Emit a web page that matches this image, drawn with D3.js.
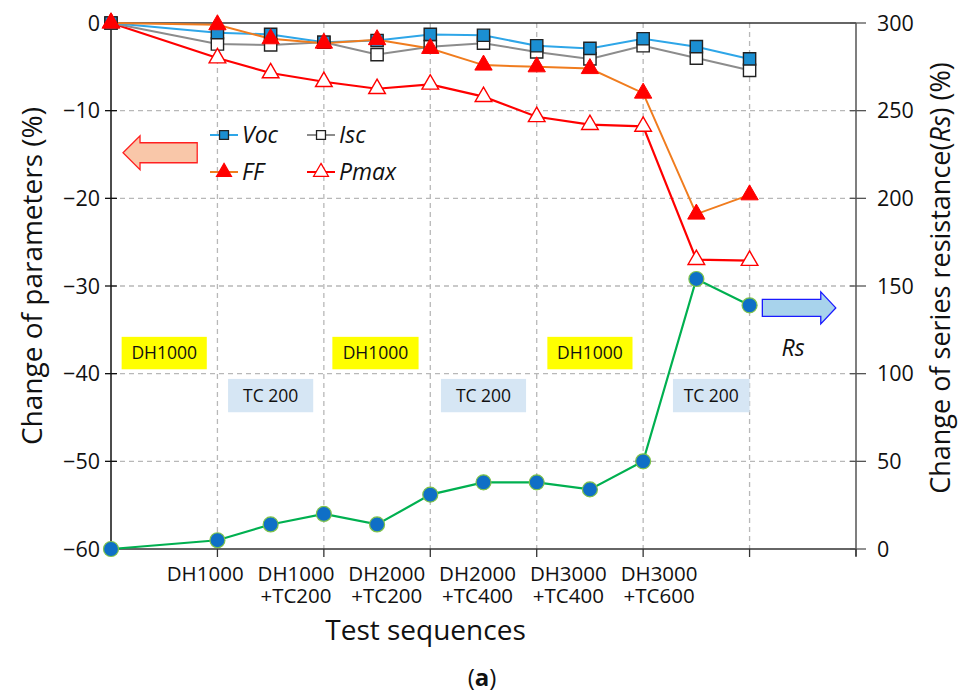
<!DOCTYPE html>
<html><head><meta charset="utf-8">
<script src="https://cdn.jsdelivr.net/npm/d3@7"></script>
<style>
html,body{margin:0;padding:0;background:#fff;}
text{font-family:"Open Sans",sans-serif;}
</style></head>
<body>
<svg id="chart" width="963" height="693"></svg>
<script>
// ---- data ----
const stepX = [0, 1, 1.5, 2, 2.5, 3, 3.5, 4, 4.5, 5, 5.5, 6];
const voc  = [0, -1.1, -1.3, -2.2, -2.0, -1.3, -1.4, -2.6, -2.9, -1.8, -2.7, -4.1];
const isc  = [0, -2.4, -2.5, -2.2, -3.6, -2.7, -2.3, -3.3, -4.1, -2.6, -4.0, -5.4];
const ff   = [0, -0.2, -1.8, -2.3, -1.9, -2.9, -4.8, -5.0, -5.2, -8.0, -21.8, -19.6];
const pmax = [0, -4.0, -5.7, -6.7, -7.5, -7.0, -8.4, -10.7, -11.6, -11.8, -27.0, -27.1];
const rs   = [0, 5, 14, 20, 14, 31, 38, 38, 34, 50, 154, 139];
const categories = ["DH1000", "DH1000\n+TC200", "DH2000\n+TC200", "DH2000\n+TC400", "DH3000\n+TC400", "DH3000\n+TC600"];
const leftTicks = [0, -10, -20, -30, -40, -50, -60];
const rightTicks = [0, 50, 100, 150, 200, 250, 300];
const xGrid = [1, 2, 3, 4, 5, 6];
const xTicks = [1, 2, 3, 4, 5, 6, 7];
const dhBoxes = [[0.1, 0.9], [2.08, 2.89], [4.1, 4.9]];
const tcBoxes = [[1.1, 1.9], [3.1, 3.9], [5.28, 6.0]];

// ---- scales ----
const svg = d3.select("#chart");
const x = d3.scaleLinear().domain([0, 7]).range([111, 856]);
const yL = d3.scaleLinear().domain([-60, 0]).range([549, 23]);
const yR = d3.scaleLinear().domain([0, 300]).range([549, 23]);
const xCat = d3.scalePoint().domain(categories).range([x(0.885), x(5.15)]);

// grid
const g = svg.append("g");
g.selectAll(".hg").data(leftTicks.filter(d => d !== 0 && d !== -60)).join("line")
  .attr("x1", x(0)).attr("x2", x(7)).attr("y1", d => yL(d)).attr("y2", d => yL(d))
  .attr("stroke", "#b8b8b8").attr("stroke-width", 1.3).attr("stroke-dasharray", "5,4");
g.selectAll(".vg").data(xGrid).join("line")
  .attr("x1", d => x(d)).attr("x2", d => x(d)).attr("y1", yL(0)).attr("y2", yL(-60))
  .attr("stroke", "#b8b8b8").attr("stroke-width", 1.3).attr("stroke-dasharray", "5,4");

// annotation boxes
const boxes = svg.append("g");
dhBoxes.forEach(b => {
  boxes.append("rect").attr("x", x(b[0])).attr("width", x(b[1]) - x(b[0]))
    .attr("y", yL(-35.8)).attr("height", yL(-39.5) - yL(-35.8)).attr("fill", "#ffff00");
  boxes.append("text").attr("x", (x(b[0]) + x(b[1])) / 2).attr("y", (yL(-35.8) + yL(-39.5)) / 2 + 6)
    .attr("text-anchor", "middle").attr("font-size", 17.5).attr("fill", "#111").text("DH1000");
});
tcBoxes.forEach(b => {
  boxes.append("rect").attr("x", x(b[0])).attr("width", x(b[1]) - x(b[0]))
    .attr("y", yL(-40.6)).attr("height", yL(-44.4) - yL(-40.6)).attr("fill", "#d6e6f4");
  boxes.append("text").attr("x", (x(b[0]) + x(b[1])) / 2).attr("y", (yL(-40.6) + yL(-44.4)) / 2 + 6)
    .attr("text-anchor", "middle").attr("font-size", 17.5).attr("fill", "#111").text("TC 200");
});

// axes frame
svg.append("line").attr("x1", x(0)).attr("x2", x(7)).attr("y1", yL(0)).attr("y2", yL(0)).attr("stroke", "#333").attr("stroke-width", 1.5);
svg.append("line").attr("x1", x(0)).attr("x2", x(7)).attr("y1", yL(-60)).attr("y2", yL(-60)).attr("stroke", "#333").attr("stroke-width", 1.5);
svg.append("line").attr("x1", x(0)).attr("x2", x(0)).attr("y1", yL(0)).attr("y2", yL(-60)).attr("stroke", "#111").attr("stroke-width", 1.5);
svg.append("line").attr("x1", x(7)).attr("x2", x(7)).attr("y1", yR(300)).attr("y2", yR(0) + 7).attr("stroke", "#555").attr("stroke-width", 1.5);

// left ticks
const fmt = d3.format("");
svg.selectAll(".lt").data(leftTicks).join("line")
  .attr("x1", x(0) - 6).attr("x2", x(0) + 6).attr("y1", d => yL(d)).attr("y2", d => yL(d))
  .attr("stroke", "#111").attr("stroke-width", 1.3);
svg.selectAll(".ltl").data(leftTicks).join("text")
  .attr("x", x(0) - 11).attr("y", d => yL(d) + 7.5).attr("text-anchor", "end")
  .attr("font-size", 21.5).attr("fill", "#111").text(d => fmt(d));
// right ticks
svg.selectAll(".rt").data(rightTicks).join("line")
  .attr("x1", x(7) - 6).attr("x2", x(7) + 10).attr("y1", d => yR(d)).attr("y2", d => yR(d))
  .attr("stroke", "#555").attr("stroke-width", 1.3);
svg.selectAll(".rtl").data(rightTicks).join("text")
  .attr("x", x(7) + 21).attr("y", d => yR(d) + 7.5).attr("text-anchor", "start")
  .attr("font-size", 21.5).attr("fill", "#111").text(d => fmt(d));
// bottom ticks
svg.selectAll(".bt").data(xTicks).join("line")
  .attr("x1", d => x(d)).attr("x2", d => x(d)).attr("y1", yL(-60)).attr("y2", yL(-60) + 8)
  .attr("stroke", "#333").attr("stroke-width", 1.3);
// category labels (one text per line)
const catLines = categories.flatMap(c => c.split("\n").map((l, i) => ({cat: c, line: l, i})));
svg.selectAll(".cl").data(catLines).join("text")
  .attr("x", d => xCat(d.cat)).attr("y", d => 581 + d.i * 22)
  .attr("text-anchor", "middle").attr("font-size", 20.5).attr("fill", "#111").text(d => d.line);

// lines
function series(vals, yScale, stroke, width) {
  const pts = vals.map((v, i) => [stepX[i], v]);
  svg.append("path").datum(pts)
    .attr("d", d3.line().x(p => x(p[0])).y(p => yScale(p[1])))
    .attr("fill", "none").attr("stroke", stroke).attr("stroke-width", width);
  return pts;
}
const sym = (type, size) => d3.symbol().type(type).size(size)();

const rsPts = series(rs, yR, "#00b050", 2.2);
svg.selectAll(".rsm").data(rsPts).join("circle")
  .attr("cx", p => x(p[0])).attr("cy", p => yR(p[1])).attr("r", 7.5)
  .attr("fill", "#0f6fc6").attr("stroke", "#7fc34a").attr("stroke-width", 1.2);

const pmPts = series(pmax, yL, "#ff0000", 2.2);
const iscPts = series(isc, yL, "#8c8c8c", 2);
const vocPts = series(voc, yL, "#2ea6e8", 2);
const ffPts = series(ff, yL, "#f07c1e", 2);

svg.selectAll(".iscm").data(iscPts).join("path")
  .attr("transform", p => `translate(${x(p[0])},${yL(p[1])})`)
  .attr("d", sym(d3.symbolSquare, 150)).attr("fill", "#fff").attr("stroke", "#222").attr("stroke-width", 1.4);
svg.selectAll(".vocm").data(vocPts).join("path")
  .attr("transform", p => `translate(${x(p[0])},${yL(p[1])})`)
  .attr("d", sym(d3.symbolSquare, 150)).attr("fill", "#1b8fd2").attr("stroke", "#222").attr("stroke-width", 1.4);
svg.selectAll(".pmm").data(pmPts).join("path")
  .attr("transform", p => `translate(${x(p[0])},${yL(p[1])})`)
  .attr("d", sym(d3.symbolTriangle, 120)).attr("fill", "#fff").attr("stroke", "#ff0000").attr("stroke-width", 1.4);
svg.selectAll(".ffm").data(ffPts).join("path")
  .attr("transform", p => `translate(${x(p[0])},${yL(p[1])})`)
  .attr("d", sym(d3.symbolTriangle, 130)).attr("fill", "#ff0000").attr("stroke", "#ff0000").attr("stroke-width", 1);

// legend
const legend = [
  {name: "Voc", line: "#2ea6e8", type: d3.symbolSquare, fill: "#1b8fd2", stroke: "#222", col: 0, row: 0},
  {name: "Isc", line: "#8c8c8c", type: d3.symbolSquare, fill: "#fff", stroke: "#222", col: 1, row: 0},
  {name: "FF", line: "#f07c1e", type: d3.symbolTriangle, fill: "#ff0000", stroke: "#ff0000", col: 0, row: 1},
  {name: "Pmax", line: "#ff0000", type: d3.symbolTriangle, fill: "#fff", stroke: "#ff0000", col: 1, row: 1}
];
const lg = svg.append("g");
legend.forEach(l => {
  const lx = 210 + l.col * 97, ly = 135 + l.row * 37;
  lg.append("line").attr("x1", lx).attr("x2", lx + 28).attr("y1", ly).attr("y2", ly).attr("stroke", l.line).attr("stroke-width", 2);
  lg.append("path").attr("transform", `translate(${lx + 14},${ly})`)
    .attr("d", sym(l.type, l.type === d3.symbolSquare ? 80 : 95)).attr("fill", l.fill).attr("stroke", l.stroke).attr("stroke-width", 1.3);
  lg.append("text").attr("x", lx + 32).attr("y", ly + 8).attr("font-size", 23).attr("font-style", "italic").attr("fill", "#111").text(l.name);
});

// arrows
{
  const xt = x(0.113), xb = x(0.81), xh = xt + 17, cy = yL(-14.8);
  const p = d3.path();
  p.moveTo(xt, cy); p.lineTo(xh, cy - 17); p.lineTo(xh, cy - 10); p.lineTo(xb, cy - 10);
  p.lineTo(xb, cy + 10); p.lineTo(xh, cy + 10); p.lineTo(xh, cy + 17); p.closePath();
  svg.append("path").attr("d", p.toString()).attr("fill", "#f9c7a9").attr("stroke", "#ff2020").attr("stroke-width", 1.3);
}
{
  const xs = x(6.12), xtip = x(6.81), xh = xtip - 15, cy = yR(137.5);
  const p = d3.path();
  p.moveTo(xtip, cy); p.lineTo(xh, cy - 16); p.lineTo(xh, cy - 8.5); p.lineTo(xs, cy - 8.5);
  p.lineTo(xs, cy + 8.5); p.lineTo(xh, cy + 8.5); p.lineTo(xh, cy + 16); p.closePath();
  svg.append("path").attr("d", p.toString()).attr("fill", "#a8d3ec").attr("stroke", "#1a1aff").attr("stroke-width", 1.3);
  svg.append("text").attr("x", x(6.3)).attr("y", yR(110)).attr("font-size", 23).attr("font-style", "italic").attr("fill", "#111").text("Rs");
}

// titles
svg.append("text").attr("transform", `translate(42,${(yL(0) + yL(-60)) / 2 - 10}) rotate(-90)`)
  .attr("text-anchor", "middle").attr("font-size", 28).attr("fill", "#111").text("Change of parameters (%)");
const rt = svg.append("text").attr("transform", `translate(950,${(yL(0) + yL(-60)) / 2 - 8}) rotate(-90)`)
  .attr("text-anchor", "middle").attr("font-size", 27).attr("fill", "#111");
rt.append("tspan").text("Change of series resistance(");
rt.append("tspan").attr("font-style", "italic").text("Rs");
rt.append("tspan").text(") (%)");
svg.append("text").attr("x", (x(0) + x(7)) / 2 - 58).attr("y", 640).attr("text-anchor", "middle")
  .attr("font-size", 28).attr("fill", "#111").text("Test sequences");
const cap = svg.append("text").attr("x", 482).attr("y", 686).attr("text-anchor", "middle").attr("font-size", 24).attr("fill", "#111");
cap.append("tspan").text("(");
cap.append("tspan").attr("font-weight", "bold").text("a");
cap.append("tspan").text(")");
</script>
</body></html>
